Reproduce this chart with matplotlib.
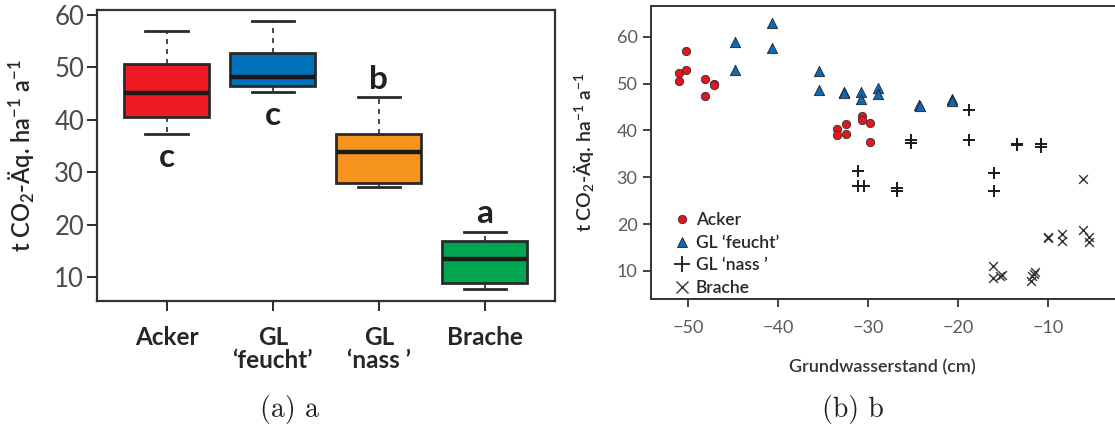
import matplotlib
matplotlib.use("Agg")
import matplotlib.pyplot as plt
from matplotlib.lines import Line2D

plt.rcParams['font.family'] = ['Lato', 'DejaVu Sans']
plt.rcParams['mathtext.default'] = 'regular'

# --- panel a: box statistics ---
groups = ['Acker', 'GL\n\u2018feucht\u2019', 'GL\n\u2018nass \u2019', 'Brache']
box_colors = ['#ED1C24', '#0070BA', '#F7941D', '#00A650']
whislo = [37.3, 45.3, 27.2, 7.8]
q1 = [40.5, 46.4, 28.0, 8.9]
med = [45.2, 48.1, 33.9, 13.6]
q3 = [50.6, 52.7, 37.3, 17.0]
whishi = [57.0, 58.9, 44.3, 18.7]
letters = ['c', 'c', 'b', 'a']
letter_y = [32.9, 40.9, 47.8, 22.2]

# --- panel b: scatter data ---
acker_x = [-51.0, -51.0, -50.2, -50.2, -48.1, -48.1, -47.1, -47.1,
           -33.5, -33.5, -32.5, -32.5, -30.7, -30.7, -29.8, -29.8]
acker_y = [50.5, 52.2, 57.0, 52.8, 51.0, 47.4, 50.0, 49.7,
           40.2, 39.1, 41.3, 39.2, 43.0, 42.3, 41.5, 37.6]
feucht_x = [-44.8, -44.8, -40.7, -40.7, -35.5, -35.5, -32.7, -32.7,
            -30.8, -30.8, -28.9, -28.9, -24.4, -24.3, -20.7, -20.7]
feucht_y = [58.9, 52.9, 63.0, 57.5, 52.7, 48.6, 48.1, 47.9,
            48.1, 46.8, 49.1, 47.7, 45.4, 45.2, 46.6, 46.3]
nass_x = [-31.1, -31.1, -30.5, -26.8, -26.8, -25.3, -25.3, -18.8,
          -18.8, -16.0, -16.0, -13.5, -13.5, -10.8, -10.8]
nass_y = [31.4, 28.2, 28.2, 27.8, 27.1, 37.9, 37.4, 44.3,
          37.9, 30.9, 27.1, 37.2, 36.9, 37.2, 36.4]
brache_x = [-16.2, -16.2, -15.4, -15.2, -11.9, -11.8, -11.6, -11.45,
            -10.1, -10.1, -8.5, -8.5, -6.2, -6.2, -5.5, -5.5]
brache_y = [11.1, 8.4, 8.85, 9.1, 7.9, 8.9, 9.4, 9.7,
            17.3, 17.0, 17.8, 16.3, 29.7, 18.7, 17.3, 16.1]

ylab = r't CO$_2$-Äq. ha$^{-1}$ a$^{-1}$'
dark = '#2a2a2a'

fig = plt.figure(figsize=(11.15, 4.32), dpi=100)

# ---------- (a) ----------
ax1 = fig.add_axes([0.0867, 0.3032, 0.4110, 0.6736])
stats = []
for i in range(4):
    stats.append(dict(whislo=whislo[i], q1=q1[i], med=med[i], q3=q3[i],
                      whishi=whishi[i], fliers=[]))
bp = ax1.bxp(stats, positions=[1, 2, 3, 4], widths=0.8, capwidths=0.4,
             patch_artist=True, showfliers=False,
             boxprops=dict(edgecolor=dark, linewidth=2.0),
             medianprops=dict(color='#1a1a1a', linewidth=3.2),
             whiskerprops=dict(color=dark, linewidth=1.2, linestyle=(0, (3, 3))),
             capprops=dict(color=dark, linewidth=2.0))
for patch, c in zip(bp['boxes'], box_colors):
    patch.set_facecolor(c)
for i in range(4):
    ax1.text(i + 1, letter_y[i], letters[i], ha='center', va='center',
             fontsize=24, fontweight='bold', color='#222222')

ax1.set_xlim(0.34, 4.66)
ax1.set_ylim(5.5, 60.95)
ax1.set_yticks([10, 20, 30, 40, 50, 60])
ax1.set_xticks([1, 2, 3, 4])
ax1.set_xticklabels(groups, fontsize=17.5, fontweight='bold', color='#262626',
                    linespacing=1.0)
ax1.tick_params(axis='y', labelsize=18.5, length=7, width=1.4, color=dark,
                labelcolor='#4a4a4a', pad=2)
ax1.tick_params(axis='x', length=7, width=1.4, color=dark, pad=11)
for s in ax1.spines.values():
    s.set_linewidth(1.6)
    s.set_color('#333333')
ax1.set_ylabel(ylab, fontsize=17, fontweight='semibold', color='#262626')
ax1.yaxis.set_label_coords(-0.13, 0.5)

# ---------- (b) ----------
ax2 = fig.add_axes([0.5836, 0.3079, 0.4164, 0.6782])
ax2.scatter(acker_x, acker_y, s=36, marker='o', facecolor='#E3161F',
            edgecolor='#333333', linewidth=0.6, label='Acker', zorder=3)
ax2.scatter(feucht_x, feucht_y, s=55, marker='^', facecolor='#1167B1',
            edgecolor='#222222', linewidth=0.6, label='GL \u2018feucht\u2019', zorder=3)
ax2.scatter(nass_x, nass_y, s=65, marker='+', color='#1a1a1a',
            linewidth=1.4, label='GL \u2018nass \u2019', zorder=3)
ax2.scatter(brache_x, brache_y, s=40, marker='x', color='#333333',
            linewidth=1.0, label='Brache', zorder=3)

ax2.set_xlim(-54.14, -2.62)
ax2.set_ylim(4.02, 66.55)
ax2.set_xticks([-50, -40, -30, -20, -10])
ax2.set_yticks([10, 20, 30, 40, 50, 60])
ax2.spines['right'].set_visible(False)
for s in ['left', 'top', 'bottom']:
    ax2.spines[s].set_linewidth(1.4)
    ax2.spines[s].set_color('#333333')
ax2.tick_params(axis='both', labelsize=13, length=6, width=1.3, color='#333333',
                labelcolor='#5a5a5a')
ax2.tick_params(axis='x', pad=9)
ax2.set_xlabel('Grundwasserstand (cm)', fontsize=13, fontweight='semibold',
               color='#333333', labelpad=17)
ax2.set_ylabel(ylab, fontsize=14, fontweight='semibold', color='#262626')
ax2.yaxis.set_label_coords(-0.118, 0.5)

handles = [
    Line2D([], [], linestyle='none', marker='o', markersize=6,
           markerfacecolor='#E3161F', markeredgecolor='#333333', markeredgewidth=0.6),
    Line2D([], [], linestyle='none', marker='^', markersize=7,
           markerfacecolor='#1167B1', markeredgecolor='#222222', markeredgewidth=0.6),
    Line2D([], [], linestyle='none', marker='+', markersize=12,
           color='#1a1a1a', markeredgewidth=1.3),
    Line2D([], [], linestyle='none', marker='x', markersize=9,
           color='#333333', markeredgewidth=1.0),
]
ax2.legend(handles, ['Acker', 'GL \u2018feucht\u2019', 'GL \u2018nass \u2019', 'Brache'],
           loc='upper left', bbox_to_anchor=(0.03, 0.325), frameon=False,
           prop=dict(size=12.5, weight='semibold'), handlelength=1.0,
           handletextpad=0.3, labelspacing=0.37, borderpad=0,
           labelcolor='#262626')

# captions
fig.text(290 / 1115, 1 - 410 / 432, '(a) a', fontfamily='cmr10', fontsize=20,
         ha='center', va='center', color='#222222')
fig.text(853 / 1115, 1 - 410 / 432, '(b) b', fontfamily='cmr10', fontsize=20,
         ha='center', va='center', color='#222222')

fig.savefig('out.png', dpi=100)
